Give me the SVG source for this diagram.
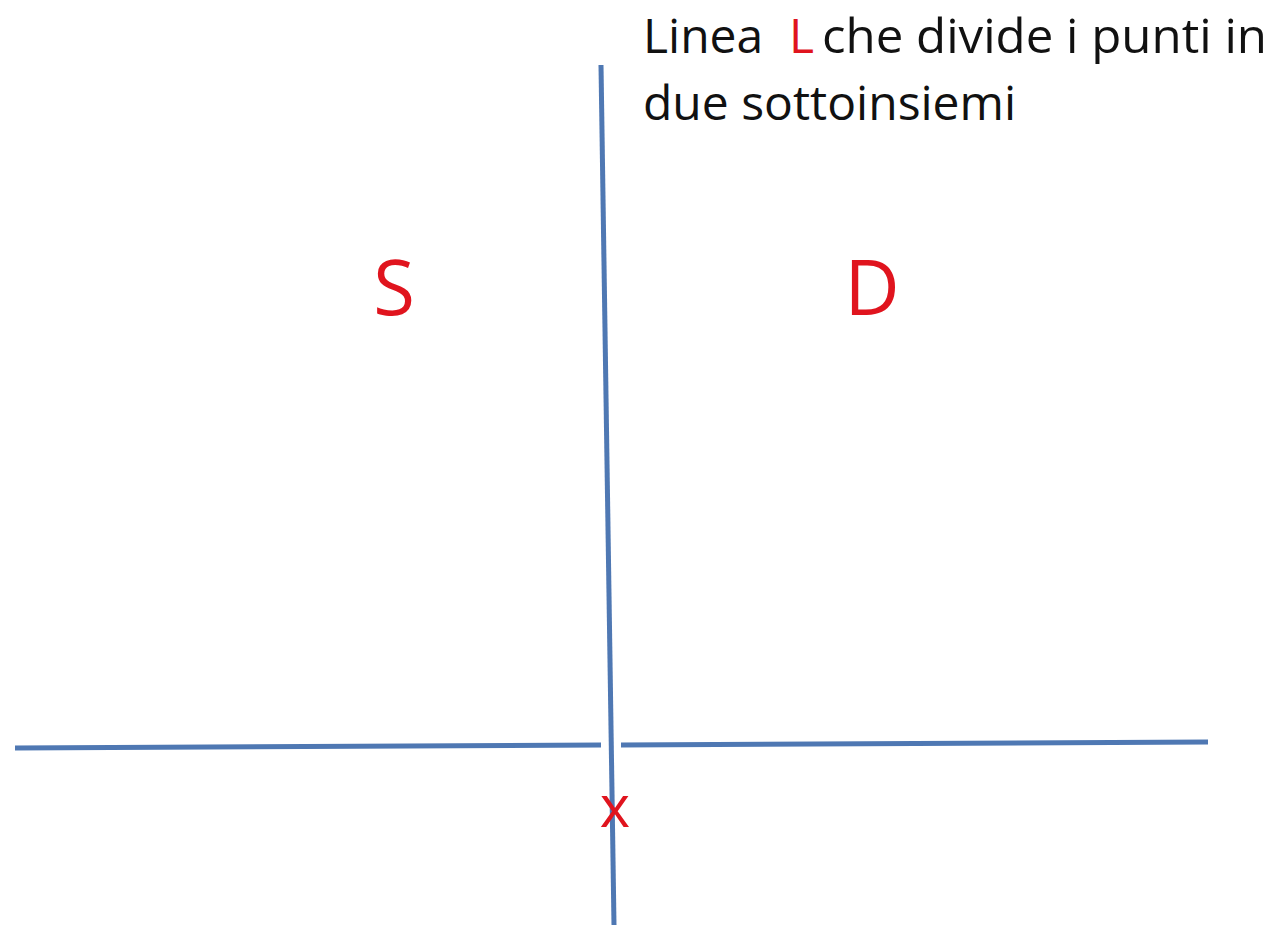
<svg xmlns="http://www.w3.org/2000/svg" width="1274" height="928" viewBox="0 0 1274 928">
<style>
.ln{stroke:#4F78B3;stroke-width:5;stroke-linecap:butt;fill:none}
.blk{font-family:"Open Sans","Liberation Sans",Arial,sans-serif;fill:#111;font-size:48px}
.red{font-family:"Open Sans","Liberation Sans",Arial,sans-serif;fill:#E0141E}
</style>
<rect width="1274" height="928" fill="#fff"/>
<g id="connectors">
<line class="ln" x1="601" y1="65" x2="614" y2="925"/>
<line class="ln" x1="15" y1="748" x2="601" y2="745"/>
<line class="ln" x1="621" y1="745" x2="1208" y2="742"/>
</g>
<g id="caption">
<text class="blk" x="643" y="53">Linea</text>
<text class="red" x="789" y="53" font-size="48">L</text>
<text class="blk" x="822" y="53" textLength="445" lengthAdjust="spacingAndGlyphs">che divide i punti in</text>
<text class="blk" x="643" y="120">due sottoinsiemi</text>
</g>
<g id="S"><text class="red" x="394" y="315" font-size="76" text-anchor="middle">S</text></g>
<g id="D"><text class="red" x="872" y="315" font-size="76" text-anchor="middle">D</text></g>
<g id="X"><text class="red" x="615" y="827" font-size="58" text-anchor="middle">x</text></g>
</svg>
